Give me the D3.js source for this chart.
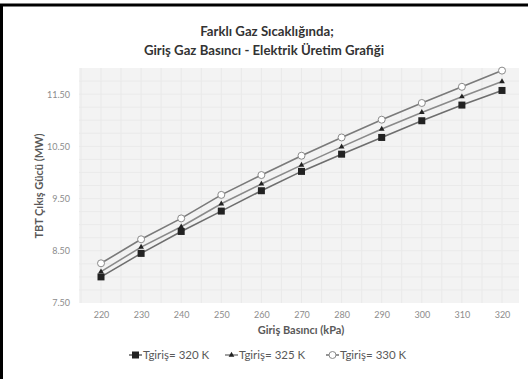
<!DOCTYPE html>
<html><head><meta charset="utf-8">
<script src="https://cdn.jsdelivr.net/npm/d3@7"></script>
<style>body{margin:0;background:#fff;}svg{display:block;font-family:Lato,"Open Sans",sans-serif;}</style>
</head><body>
<svg id="c" width="528" height="379"></svg>
<script>
const categories = [220,230,240,250,260,270,280,290,300,310,320];
const s320 = [8.00,8.45,8.87,9.26,9.65,10.02,10.35,10.67,10.99,11.29,11.57];
const s325 = [8.10,8.57,8.96,9.40,9.78,10.14,10.49,10.83,11.15,11.45,11.74];
const s330 = [8.26,8.72,9.12,9.57,9.95,10.32,10.67,11.01,11.33,11.64,11.95];
const seriesNames = ["Tgiriş= 320 K","Tgiriş= 325 K","Tgiriş= 330 K"];
const yTicks = [7.5,8.5,9.5,10.5,11.5];
const titleLines = ["Farklı Gaz Sıcaklığında;","Giriş Gaz Basıncı - Elektrik Üretim Grafiği"];

const svg = d3.select("#c");
const plot = {l:79, r:519, t:68, b:303};
const x = d3.scalePoint().domain(categories).range([101,502]);
const y = d3.scaleLinear().domain([7.5,12.0]).range([plot.b, plot.t]);

// frame (left & top)
svg.append("path").attr("d","M1.5,379 L1.5,5 L528,5").attr("fill","none").attr("stroke","#000").attr("stroke-width",3);

// plot background
svg.append("rect").attr("x",plot.l).attr("y",plot.t).attr("width",plot.r-plot.l).attr("height",plot.b-plot.t).attr("fill","#f3f3f3");

// minor grid
const g = svg.append("g");
const step = x.step();
const vgrid = [];
categories.forEach((c,i)=>{ vgrid.push(x(c)-step/2, x(c)); });
vgrid.push(x(categories[categories.length-1])+step/2);
g.selectAll("line.v").data(vgrid.filter(v=>v>plot.l+1 && v<plot.r-1)).join("line")
  .attr("x1",d=>d).attr("x2",d=>d).attr("y1",plot.t).attr("y2",plot.b)
  .attr("stroke","#e9e9e9").attr("stroke-width",1);
const hgrid = d3.range(7.75,12.0,0.25);
g.selectAll("line.h").data(hgrid).join("line")
  .attr("x1",plot.l).attr("x2",plot.r).attr("y1",d=>y(d)).attr("y2",d=>y(d))
  .attr("stroke","#eaeaea").attr("stroke-width",1);

// y axis labels
const ya = svg.append("g").attr("transform",`translate(${plot.l-6},0)`)
  .call(d3.axisLeft(y).tickValues(yTicks).tickFormat(d3.format(".2f")).tickSize(0));
ya.select(".domain").remove();
ya.selectAll("text").attr("fill","#8c8c8c").attr("font-size",9).attr("font-family","Lato,sans-serif");

// x axis labels
const xa = svg.append("g").attr("transform",`translate(0,${plot.b+6})`)
  .call(d3.axisBottom(x).tickSize(0));
xa.select(".domain").remove();
xa.selectAll("text").attr("fill","#8c8c8c").attr("font-size",9).attr("font-family","Lato,sans-serif");

// lines
const allSeries = [s320,s325,s330];
const lineColors = ["#6e6e6e","#8a8a8a","#7a7a7a"];
const line = d3.line().x((d,i)=>x(categories[i])).y(d=>y(d));
allSeries.forEach((s,k)=>{
  svg.append("path").datum(s).attr("d",line).attr("fill","none")
    .attr("stroke",lineColors[k]).attr("stroke-width",1.6);
});

function drawMarker(sel, k, cx, cy){
  if(k===0){
    sel.append("rect").attr("x",cx-3.5).attr("y",cy-3.5).attr("width",7).attr("height",7).attr("fill","#222");
  } else if(k===1){
    sel.append("path").attr("d",d3.symbol(d3.symbolTriangle,14)()).attr("transform",`translate(${cx},${cy})`).attr("fill","#222");
  } else {
    sel.append("circle").attr("cx",cx).attr("cy",cy).attr("r",3.5).attr("fill","#fff").attr("stroke","#8a8a8a").attr("stroke-width",1);
  }
}
allSeries.forEach((s,k)=>{
  const mg = svg.append("g");
  s.forEach((v,i)=>drawMarker(mg,k,x(categories[i]),y(v)));
});

// titles
svg.append("text").attr("x",267).attr("y",36).attr("text-anchor","middle").attr("font-size",13.2).attr("font-weight","bold").attr("fill","#333").text(titleLines[0]);
svg.append("text").attr("x",264).attr("y",55).attr("text-anchor","middle").attr("font-size",13.2).attr("font-weight","bold").attr("fill","#333").text(titleLines[1]);

svg.append("text").attr("transform","translate(43,186) rotate(-90)").attr("text-anchor","middle")
  .attr("font-size",11).attr("font-weight","bold").attr("fill","#595959").text("TBT Çıkış Gücü (MW)");
svg.append("text").attr("x",301).attr("y",334).attr("text-anchor","middle")
  .attr("font-size",11).attr("font-weight","bold").attr("fill","#595959").text("Giriş Basıncı (kPa)");

// legend
const legX = [129,225,326];
const lg = svg.append("g");
seriesNames.forEach((n,k)=>{
  const lx = legX[k], ly = 355;
  lg.append("line").attr("x1",lx).attr("x2",lx+13).attr("y1",ly).attr("y2",ly).attr("stroke",lineColors[k]).attr("stroke-width",1.6);
  drawMarker(lg,k,lx+6.5,ly);
  lg.append("text").attr("x",lx+14).attr("y",ly+4).attr("font-size",11.5).attr("fill","#595959").text(n);
});
</script>
</body></html>
